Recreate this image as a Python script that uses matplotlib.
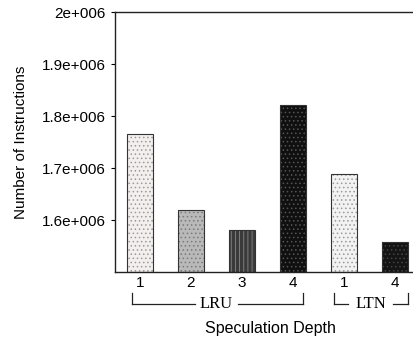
import matplotlib
matplotlib.use("Agg")
import matplotlib.pyplot as plt
from matplotlib.lines import Line2D

plt.rcParams['font.family'] = ['Liberation Sans', 'DejaVu Sans']
plt.rcParams['hatch.linewidth'] = 0.6

tick_labels = ["1", "2", "3", "4", "1", "4"]
groups = ["LRU", "LRU", "LRU", "LRU", "LTN", "LTN"]
values = [1.765e6, 1.619e6, 1.581e6, 1.821e6, 1.688e6, 1.558e6]
yticks = [1.6e6, 1.7e6, 1.8e6, 1.9e6, 2.0e6]
ytick_labels = ["1.6e+006", "1.7e+006", "1.8e+006", "1.9e+006", "2e+006"]

faces = ["#f4efef", "#b9b9b9", "#3a3a3a", "#101010", "#f2f2f2", "#141414"]
hatch_cols = ["#9a9a9a", "#7a7a7a", "#888888", "#555555", "#9a9a9a", "#444444"]
hatches = ["....", "....", "||||", "....", "....", "...."]

fig = plt.figure(figsize=(4.13, 3.4), dpi=100)
ax = fig.add_axes([115/413, 1 - 272/340, 306/413, (272 - 12)/340])

x = list(range(1, len(values) + 1))
for xi, v, fc, hc, h in zip(x, values, faces, hatch_cols, hatches):
    ax.bar(xi, v - 1.5e6, bottom=1.5e6, width=0.5, facecolor=fc,
           edgecolor=hc, hatch=h, linewidth=0)
    ax.bar(xi, v - 1.5e6, bottom=1.5e6, width=0.5, facecolor='none',
           edgecolor='#333333', linewidth=0.8)

ax.set_ylim(1.5e6, 2.0e6)
ax.set_xlim(0.51, 6.51)
ax.set_yticks(yticks)
ax.set_yticklabels(ytick_labels, fontsize=11)
ax.set_xticks(x)
ax.set_xticklabels(tick_labels, fontsize=11)
ax.tick_params(axis='x', length=0, pad=3)
ax.tick_params(axis='y', length=3, width=0.8, direction='out')
for s in ['left', 'bottom', 'top']:
    ax.spines[s].set_linewidth(1.0)
    ax.spines[s].set_color('#222222')
ax.spines['right'].set_visible(False)
ax.set_ylabel("Number of Instructions", fontsize=11, labelpad=10)

trans = ax.get_xaxis_transform()
def bracket(x0, x1, label, gap0, gap1):
    ytop = -0.08
    ybot = -0.123
    kw = dict(transform=trans, color='#222222', lw=0.9, clip_on=False)
    ax.add_line(Line2D([x0, x0], [ytop, ybot], **kw))
    ax.add_line(Line2D([x1, x1], [ytop, ybot], **kw))
    ax.add_line(Line2D([x0, gap0], [ybot, ybot], **kw))
    ax.add_line(Line2D([gap1, x1], [ybot, ybot], **kw))
    ax.text((gap0 + gap1) / 2, ybot, label, transform=trans, ha='center',
            va='center', fontsize=12, family=['Liberation Serif', 'DejaVu Serif'])

bracket(0.843, 4.20, "LRU", 2.08, 2.92)
bracket(4.80, 6.26, "LTN", 5.08, 5.96)

fig.text(270/413, 1 - 329/340, "Speculation Depth",
         ha='center', va='center', fontsize=11.5)

fig.savefig("out.png", dpi=100)
